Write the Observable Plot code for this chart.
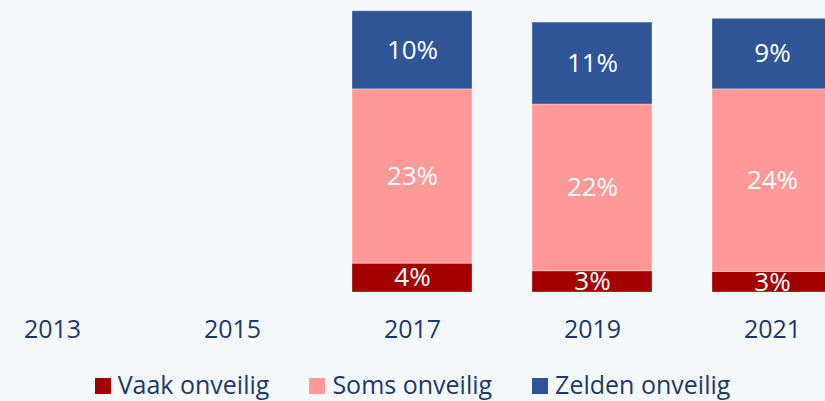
<!DOCTYPE html>
<html><head><meta charset="utf-8">
<script src="https://cdn.jsdelivr.net/npm/d3@7"></script>
<script src="https://cdn.jsdelivr.net/npm/@observablehq/plot@0.6"></script>
<style>
html,body{margin:0;padding:0;background:#f4f8fb;overflow:hidden;width:825px;height:401px;}
#chart{position:relative;width:825px;height:401px;}
#legend{position:absolute;left:0;top:369px;width:825px;display:flex;justify-content:center;gap:40px;font-family:"Open Sans",sans-serif;font-size:25px;color:#1f3864;line-height:30px;white-space:nowrap;}
.item{display:flex;align-items:center;gap:7px}
.sw{width:16px;height:16px;display:inline-block;margin-top:3px}
</style></head>
<body><div id="chart"><div id="legend"></div></div>
<script>
const years = ["2013","2015","2017","2019","2021"];
const series = ["Vaak onveilig","Soms onveilig","Zelden onveilig"];
const colors = ["#a50000","#ff9999","#2f5597"];
const barYears = ["2017","2019","2021"];
const vaak = [3.8, 2.8, 2.7];
const soms = [23.0, 22.0, 24.1];
const zelden = [10.3, 10.8, 9.3];

const valuesBySeries = [vaak, soms, zelden];
const rows = [];
barYears.forEach((yr, i) => {
  series.forEach((s, j) => {
    const v = valuesBySeries[j][i];
    rows.push({year: yr, series: s, value: v, label: Math.round(v) + "%"});
  });
});

const plot = Plot.plot({
  width: 825, height: 360,
  marginLeft: 0, marginRight: 0, marginTop: 0, marginBottom: 68,
  style: {background: "transparent", fontFamily: "Open Sans, sans-serif", overflow: "hidden"},
  x: {domain: years, range: [-9.8, 833], paddingInner: 0.333, paddingOuter: 0, label: null},
  y: {domain: [0, 37], range: [292, 11.5], axis: null},
  color: {domain: series, range: colors},
  marks: [
    Plot.barY(rows, Plot.stackY({x: "year", y: "value", fill: "series", order: series, stroke: "#ffffff", strokeOpacity: 0.3, strokeWidth: 1})),
    Plot.text(rows, Plot.stackY({x: "year", y: "value", z: "series", order: series, text: "label", fill: "white", fontSize: 26, lineAnchor: "middle"})),
    Plot.axisX({tickSize: 0, tickPadding: 28, fontSize: 25, color: "#1f3864", label: null})
  ]
});
document.getElementById("chart").prepend(plot);

const legend = document.getElementById("legend");
series.forEach((s, j) => {
  const item = document.createElement("div");
  item.className = "item";
  const sw = document.createElement("span");
  sw.className = "sw";
  sw.style.background = colors[j];
  const t = document.createElement("span");
  t.textContent = s;
  item.appendChild(sw); item.appendChild(t);
  legend.appendChild(item);
});
</script>
</body></html>
